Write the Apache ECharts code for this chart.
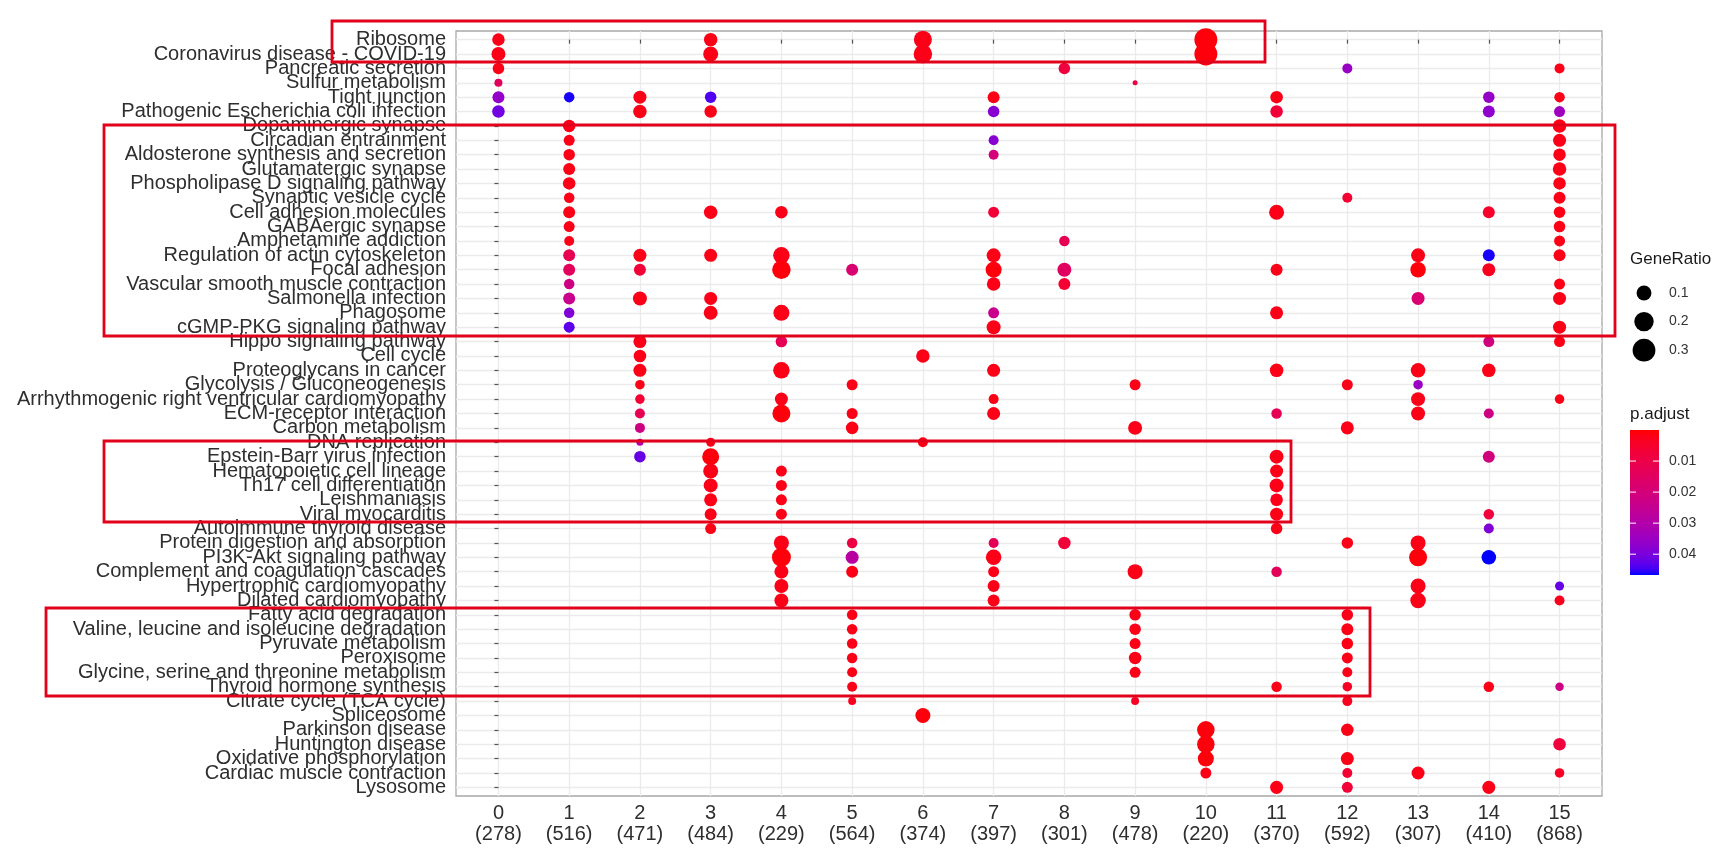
<!DOCTYPE html>
<html>
<head>
<meta charset="utf-8">
<script src="https://cdn.jsdelivr.net/npm/echarts@6/dist/echarts.min.js"></script>
<style>
  html, body { margin: 0; padding: 0; background: #fff; }
  #chart { width: 1723px; height: 866px; }
</style>
</head>
<body>
<div id="chart"></div>
<script>
// ---------- DATA ----------
const pathways = [
  'Ribosome', 'Coronavirus disease - COVID-19', 'Pancreatic secretion', 'Sulfur metabolism',
  'Tight junction', 'Pathogenic Escherichia coli infection', 'Dopaminergic synapse',
  'Circadian entrainment', 'Aldosterone synthesis and secretion', 'Glutamatergic synapse',
  'Phospholipase D signaling pathway', 'Synaptic vesicle cycle', 'Cell adhesion molecules',
  'GABAergic synapse', 'Amphetamine addiction', 'Regulation of actin cytoskeleton',
  'Focal adhesion', 'Vascular smooth muscle contraction', 'Salmonella infection', 'Phagosome',
  'cGMP-PKG signaling pathway', 'Hippo signaling pathway', 'Cell cycle', 'Proteoglycans in cancer',
  'Glycolysis / Gluconeogenesis', 'Arrhythmogenic right ventricular cardiomyopathy',
  'ECM-receptor interaction', 'Carbon metabolism', 'DNA replication', 'Epstein-Barr virus infection',
  'Hematopoietic cell lineage', 'Th17 cell differentiation', 'Leishmaniasis', 'Viral myocarditis',
  'Autoimmune thyroid disease', 'Protein digestion and absorption', 'PI3K-Akt signaling pathway',
  'Complement and coagulation cascades', 'Hypertrophic cardiomyopathy', 'Dilated cardiomyopathy',
  'Fatty acid degradation', 'Valine, leucine and isoleucine degradation', 'Pyruvate metabolism',
  'Peroxisome', 'Glycine, serine and threonine metabolism', 'Thyroid hormone synthesis',
  'Citrate cycle (TCA cycle)', 'Spliceosome', 'Parkinson disease', 'Huntington disease',
  'Oxidative phosphorylation', 'Cardiac muscle contraction', 'Lysosome'
];
const clusterIds = ['0','1','2','3','4','5','6','7','8','9','10','11','12','13','14','15'];
const clusterSizes = [278, 516, 471, 484, 229, 564, 374, 397, 301, 478, 220, 370, 592, 307, 410, 868];

// each entry: [pathway, GeneRatio, p.adjust]
const c0 = [['Ribosome',.062,.002],['Coronavirus disease - COVID-19',.084,.002],['Pancreatic secretion',.049,.002],
  ['Sulfur metabolism',.018,.014],['Tight junction',.055,.036],['Pathogenic Escherichia coli infection',.062,.041]];
const c1 = [['Tight junction',.038,.046],['Dopaminergic synapse',.062,.002],['Circadian entrainment',.043,.002],
  ['Aldosterone synthesis and secretion',.049,.002],['Glutamatergic synapse',.055,.002],
  ['Phospholipase D signaling pathway',.062,.002],['Synaptic vesicle cycle',.038,.002],
  ['Cell adhesion molecules',.055,.002],['GABAergic synapse',.043,.002],['Amphetamine addiction',.033,.002],
  ['Regulation of actin cytoskeleton',.055,.012],['Focal adhesion',.055,.014],
  ['Vascular smooth muscle contraction',.038,.022],['Salmonella infection',.055,.024],
  ['Phagosome',.038,.039],['cGMP-PKG signaling pathway',.043,.043]];
const c2 = [['Tight junction',.069,.002],['Pathogenic Escherichia coli infection',.076,.002],
  ['Regulation of actin cytoskeleton',.069,.002],['Focal adhesion',.055,.007],['Salmonella infection',.084,.002],
  ['Hippo signaling pathway',.069,.002],['Cell cycle',.062,.002],['Proteoglycans in cancer',.069,.002],
  ['Glycolysis / Gluconeogenesis',.029,.002],['Arrhythmogenic right ventricular cardiomyopathy',.029,.006],
  ['ECM-receptor interaction',.033,.012],['Carbon metabolism',.033,.022],['DNA replication',.014,.030],
  ['Epstein-Barr virus infection',.049,.042]];
const c3 = [['Ribosome',.076,.002],['Coronavirus disease - COVID-19',.102,.002],['Tight junction',.049,.044],
  ['Pathogenic Escherichia coli infection',.062,.002],['Cell adhesion molecules',.076,.002],
  ['Regulation of actin cytoskeleton',.069,.002],['Salmonella infection',.069,.002],['Phagosome',.084,.002],
  ['DNA replication',.025,.002],['Epstein-Barr virus infection',.142,.001],['Hematopoietic cell lineage',.102,.002],
  ['Th17 cell differentiation',.084,.002],['Leishmaniasis',.069,.002],['Viral myocarditis',.055,.002],
  ['Autoimmune thyroid disease',.043,.002]];
const c4 = [['Cell adhesion molecules',.062,.002],['Regulation of actin cytoskeleton',.131,.002],
  ['Focal adhesion',.177,.001],['Phagosome',.121,.002],['Hippo signaling pathway',.049,.013],
  ['Proteoglycans in cancer',.131,.002],['Arrhythmogenic right ventricular cardiomyopathy',.069,.002],
  ['ECM-receptor interaction',.165,.001],['Hematopoietic cell lineage',.043,.002],['Th17 cell differentiation',.043,.002],
  ['Leishmaniasis',.043,.002],['Viral myocarditis',.043,.002],['Protein digestion and absorption',.102,.002],
  ['PI3K-Akt signaling pathway',.190,.001],['Complement and coagulation cascades',.084,.002],
  ['Hypertrophic cardiomyopathy',.084,.002],['Dilated cardiomyopathy',.084,.002]];
const c5 = [['Focal adhesion',.055,.018],['Glycolysis / Gluconeogenesis',.043,.002],['ECM-receptor interaction',.043,.002],
  ['Carbon metabolism',.062,.002],['Protein digestion and absorption',.038,.009],['PI3K-Akt signaling pathway',.069,.028],
  ['Complement and coagulation cascades',.055,.002],['Fatty acid degradation',.038,.002],
  ['Valine, leucine and isoleucine degradation',.038,.002],['Pyruvate metabolism',.038,.002],['Peroxisome',.038,.002],
  ['Glycine, serine and threonine metabolism',.033,.002],['Thyroid hormone synthesis',.033,.002],
  ['Citrate cycle (TCA cycle)',.018,.003]];
const c6 = [['Ribosome',.165,.002],['Coronavirus disease - COVID-19',.177,.002],['Cell cycle',.076,.002],
  ['DNA replication',.033,.002],['Spliceosome',.102,.001]];
const c7 = [['Tight junction',.055,.002],['Pathogenic Escherichia coli infection',.049,.038],['Circadian entrainment',.033,.038],
  ['Aldosterone synthesis and secretion',.033,.020],['Cell adhesion molecules',.043,.007],
  ['Regulation of actin cytoskeleton',.084,.002],['Focal adhesion',.121,.001],['Vascular smooth muscle contraction',.076,.002],
  ['Phagosome',.043,.024],['cGMP-PKG signaling pathway',.084,.002],['Proteoglycans in cancer',.069,.002],
  ['Arrhythmogenic right ventricular cardiomyopathy',.033,.002],['ECM-receptor interaction',.069,.002],
  ['Protein digestion and absorption',.033,.013],['PI3K-Akt signaling pathway',.111,.002],
  ['Complement and coagulation cascades',.043,.002],['Hypertrophic cardiomyopathy',.055,.002],['Dilated cardiomyopathy',.055,.002]];
const c8 = [['Pancreatic secretion',.049,.008],['Amphetamine addiction',.038,.012],['Focal adhesion',.084,.015],
  ['Vascular smooth muscle contraction',.055,.006],['Protein digestion and absorption',.062,.007]];
const c9 = [['Sulfur metabolism',.010,.009],['Glycolysis / Gluconeogenesis',.043,.002],['Carbon metabolism',.084,.002],
  ['Complement and coagulation cascades',.102,.002],['Fatty acid degradation',.049,.002],
  ['Valine, leucine and isoleucine degradation',.049,.002],['Pyruvate metabolism',.043,.002],['Peroxisome',.062,.002],
  ['Glycine, serine and threonine metabolism',.043,.002],['Citrate cycle (TCA cycle)',.018,.004]];
const c10 = [['Ribosome',.305,.001],['Coronavirus disease - COVID-19',.305,.001],['Parkinson disease',.154,.001],
  ['Huntington disease',.154,.001],['Oxidative phosphorylation',.121,.001],['Cardiac muscle contraction',.043,.002]];
const c11 = [['Tight junction',.062,.002],['Pathogenic Escherichia coli infection',.062,.007],['Cell adhesion molecules',.102,.002],
  ['Focal adhesion',.055,.002],['Phagosome',.069,.002],['Proteoglycans in cancer',.076,.002],['ECM-receptor interaction',.038,.013],
  ['Epstein-Barr virus infection',.084,.002],['Hematopoietic cell lineage',.069,.002],['Th17 cell differentiation',.084,.002],
  ['Leishmaniasis',.062,.002],['Viral myocarditis',.069,.002],['Autoimmune thyroid disease',.049,.002],
  ['Complement and coagulation cascades',.038,.014],['Thyroid hormone synthesis',.038,.002],['Lysosome',.069,.002]];
const c12 = [['Pancreatic secretion',.033,.035],['Synaptic vesicle cycle',.033,.006],['Glycolysis / Gluconeogenesis',.043,.002],
  ['Carbon metabolism',.069,.002],['Protein digestion and absorption',.049,.002],['Fatty acid degradation',.049,.002],
  ['Valine, leucine and isoleucine degradation',.055,.002],['Pyruvate metabolism',.049,.002],['Peroxisome',.043,.002],
  ['Glycine, serine and threonine metabolism',.033,.002],['Thyroid hormone synthesis',.029,.004],
  ['Citrate cycle (TCA cycle)',.033,.003],['Parkinson disease',.062,.002],['Oxidative phosphorylation',.069,.002],
  ['Cardiac muscle contraction',.033,.006],['Lysosome',.043,.007]];
const c13 = [['Regulation of actin cytoskeleton',.084,.002],['Focal adhesion',.111,.001],['Salmonella infection',.069,.018],
  ['Proteoglycans in cancer',.093,.002],['Glycolysis / Gluconeogenesis',.029,.035],
  ['Arrhythmogenic right ventricular cardiomyopathy',.084,.002],['ECM-receptor interaction',.084,.002],
  ['Protein digestion and absorption',.102,.002],['PI3K-Akt signaling pathway',.165,.001],
  ['Hypertrophic cardiomyopathy',.102,.002],['Dilated cardiomyopathy',.111,.002],['Cardiac muscle contraction',.069,.002]];
const c14 = [['Tight junction',.049,.036],['Pathogenic Escherichia coli infection',.055,.037],['Cell adhesion molecules',.055,.005],
  ['Regulation of actin cytoskeleton',.055,.046],['Focal adhesion',.069,.003],['Hippo signaling pathway',.043,.021],
  ['Proteoglycans in cancer',.076,.002],['ECM-receptor interaction',.033,.022],['Epstein-Barr virus infection',.055,.021],
  ['Viral myocarditis',.038,.008],['Autoimmune thyroid disease',.033,.039],['PI3K-Akt signaling pathway',.093,.047],
  ['Thyroid hormone synthesis',.038,.002],['Lysosome',.069,.002]];
const c15 = [['Pancreatic secretion',.033,.002],['Tight junction',.038,.002],['Pathogenic Escherichia coli infection',.043,.034],
  ['Dopaminergic synapse',.076,.002],['Circadian entrainment',.069,.002],['Aldosterone synthesis and secretion',.062,.002],
  ['Glutamatergic synapse',.076,.002],['Phospholipase D signaling pathway',.062,.002],['Synaptic vesicle cycle',.055,.002],
  ['Cell adhesion molecules',.049,.002],['GABAergic synapse',.049,.002],['Amphetamine addiction',.043,.002],
  ['Regulation of actin cytoskeleton',.055,.002],['Vascular smooth muscle contraction',.043,.002],
  ['Salmonella infection',.069,.002],['cGMP-PKG signaling pathway',.069,.002],['Hippo signaling pathway',.043,.002],
  ['Arrhythmogenic right ventricular cardiomyopathy',.029,.002],['Hypertrophic cardiomyopathy',.025,.042],
  ['Dilated cardiomyopathy',.033,.003],['Thyroid hormone synthesis',.021,.022],['Huntington disease',.062,.008],
  ['Cardiac muscle contraction',.029,.004]];

const sizeBreaks = [0.1, 0.2, 0.3];
const pBreaks = [0.01, 0.02, 0.03, 0.04];
const pLimits = [0, 0.0467];
const ratioMin = 0.01;

// ---------- HELPERS ----------
const clusters = [c0,c1,c2,c3,c4,c5,c6,c7,c8,c9,c10,c11,c12,c13,c14,c15];
const points = [];
clusters.forEach((arr, ci) => {
  arr.forEach(([name, ratio, p]) => {
    const ri = pathways.indexOf(name);
    if (ri < 0) { console.error('missing pathway', name); return; }
    points.push([ci, ri, ratio, p]);
  });
});
function dotSize(r) { return 5 + 33 * Math.sqrt(Math.max(0, r - ratioMin)); }

// Lab interpolation between red and blue (like ggplot's gradient)
function hexToRgb(h) { return [1,3,5].map(i => parseInt(h.substr(i,2),16)/255); }
function toLab(rgb) {
  const l = rgb.map(c => c <= 0.04045 ? c/12.92 : Math.pow((c+0.055)/1.055, 2.4));
  let X = 0.4124564*l[0] + 0.3575761*l[1] + 0.1804375*l[2];
  let Y = 0.2126729*l[0] + 0.7151522*l[1] + 0.0721750*l[2];
  let Z = 0.0193339*l[0] + 0.1191920*l[1] + 0.9503041*l[2];
  X /= 0.95047; Z /= 1.08883;
  const f = t => t > 0.008856 ? Math.cbrt(t) : 7.787*t + 16/116;
  const fx = f(X), fy = f(Y), fz = f(Z);
  return [116*fy - 16, 500*(fx - fy), 200*(fy - fz)];
}
function fromLab(lab) {
  const fy = (lab[0] + 16)/116, fx = fy + lab[1]/500, fz = fy - lab[2]/200;
  const fi = t => t*t*t > 0.008856 ? t*t*t : (t - 16/116)/7.787;
  const X = fi(fx)*0.95047, Y = fi(fy), Z = fi(fz)*1.08883;
  const r =  3.2404542*X - 1.5371385*Y - 0.4985314*Z;
  const g = -0.9692660*X + 1.8760108*Y + 0.0415560*Z;
  const b =  0.0556434*X - 0.2040259*Y + 1.0572252*Z;
  return [r,g,b].map(c => {
    c = c <= 0.0031308 ? 12.92*c : 1.055*Math.pow(c, 1/2.4) - 0.055;
    c = Math.max(0, Math.min(1, c));
    const s = Math.round(c*255).toString(16);
    return s.length < 2 ? '0' + s : s;
  }).join('');
}
const labLow = toLab(hexToRgb('#FF0000')), labHigh = toLab(hexToRgb('#0000FF'));
const NSTOP = 24;
const gradColors = [];
for (let i = 0; i <= NSTOP; i++) {
  const t = i / NSTOP;
  gradColors.push('#' + fromLab(labLow.map((v, k) => v + (labHigh[k] - v) * t)));
}

// ---------- CHART ----------
const FONT = "'Liberation Sans', Arial, Helvetica, sans-serif";
const chart = echarts.init(document.getElementById('chart'), null, { renderer: 'canvas' });
const idxX = clusterIds.map((_, i) => i);
const idxY = pathways.map((_, i) => i);
const yMin = -0.6, yMax = pathways.length - 0.4;
// empty guard labels at both ends so the auto min/max-overlap rule never hides a real label
const yLabelValues = [yMin + 0.05].concat(idxY, [yMax - 0.05]);

// legend geometry (layout only)
const legX = 1630, cbTop = 430, cbH = 145, cbW = 29;
const graphics = [];
graphics.push({ type: 'text', x: legX, y: 259, style: { text: 'GeneRatio', font: '17px ' + FONT, fill: '#1a1a1a', verticalAlign: 'middle' } });
sizeBreaks.forEach((v, i) => {
  const cy = 293 + i * 28.6;
  graphics.push({ type: 'circle', shape: { cx: 1644, cy: cy, r: dotSize(v) / 2 }, style: { fill: '#000' } });
  graphics.push({ type: 'text', x: 1669, y: cy, style: { text: String(v), font: '14px ' + FONT, fill: '#333', verticalAlign: 'middle' } });
});
graphics.push({ type: 'text', x: legX, y: 414, style: { text: 'p.adjust', font: '17px ' + FONT, fill: '#1a1a1a', verticalAlign: 'middle' } });
graphics.push({ type: 'rect', shape: { x: legX, y: cbTop, width: cbW, height: cbH },
  style: { fill: new echarts.graphic.LinearGradient(0, 0, 0, 1,
    gradColors.map((c, i) => ({ offset: i / NSTOP, color: c }))) } });
pBreaks.forEach(v => {
  const y = cbTop + (v - pLimits[0]) / (pLimits[1] - pLimits[0]) * cbH;
  graphics.push({ type: 'line', shape: { x1: legX, y1: y, x2: legX + 6, y2: y }, style: { stroke: '#fff', lineWidth: 1 } });
  graphics.push({ type: 'line', shape: { x1: legX + cbW - 6, y1: y, x2: legX + cbW, y2: y }, style: { stroke: '#fff', lineWidth: 1 } });
  graphics.push({ type: 'text', x: 1669, y: y, style: { text: String(v), font: '14px ' + FONT, fill: '#333', verticalAlign: 'middle' } });
});
// red annotation boxes
const boxStyle = { fill: 'none', stroke: '#E2001A', lineWidth: 2.8 };
[[332, 21, 933, 41], [104, 125, 1511, 211], [104, 441, 1187, 81], [46, 608, 1324, 88]].forEach(b => {
  graphics.push({ type: 'rect', z: 100, shape: { x: b[0], y: b[1], width: b[2], height: b[3] }, style: boxStyle });
});

chart.setOption({
  animation: false,
  backgroundColor: '#ffffff',
  textStyle: { fontFamily: FONT },
  grid: { left: 456, right: 121, top: 31, bottom: 70, show: true, borderColor: '#A8A8A8', borderWidth: 1.3, backgroundColor: '#fff' },
  xAxis: {
    type: 'value', min: -0.6, max: 15.6,
    axisLine: { show: false },
    axisTick: { show: true, length: 4, lineStyle: { color: '#555', width: 1.2 }, customValues: idxX },
    axisLabel: { customValues: idxX, showMinLabel: true, showMaxLabel: true, margin: 7, fontSize: 20, lineHeight: 21,
      color: '#2e2e2e', fontFamily: FONT,
      formatter: v => { const i = Math.round(v); return clusterIds[i] + '\n(' + clusterSizes[i] + ')'; } },
    splitLine: { show: true, lineStyle: { color: '#EBEBEB', width: 1.3 } }
  },
  yAxis: {
    type: 'value', min: yMin, max: yMax, inverse: true,
    axisLine: { show: false },
    axisTick: { show: true, length: 4, lineStyle: { color: '#555', width: 1.2 }, customValues: idxY },
    axisLabel: { customValues: yLabelValues, hideOverlap: false,
      margin: 10, fontSize: 20, color: '#2e2e2e', fontFamily: FONT, padding: [2, 0, 0, 0],
      formatter: v => { const i = Math.round(v); return (Math.abs(v - i) < 0.01 && pathways[i]) ? pathways[i] : ''; } },
    splitLine: { show: true, lineStyle: { color: '#EBEBEB', width: 1.3 } }
  },
  visualMap: {
    show: false, type: 'continuous', dimension: 3, min: pLimits[0], max: pLimits[1],
    seriesIndex: 0, inRange: { color: gradColors }
  },
  series: [{
    type: 'scatter',
    data: points,
    symbol: 'circle',
    symbolSize: v => dotSize(v[2]),
    itemStyle: { opacity: 1 },
    emphasis: { disabled: true },
    z: 3
  }],
  graphic: graphics
});
</script>
</body>
</html>
